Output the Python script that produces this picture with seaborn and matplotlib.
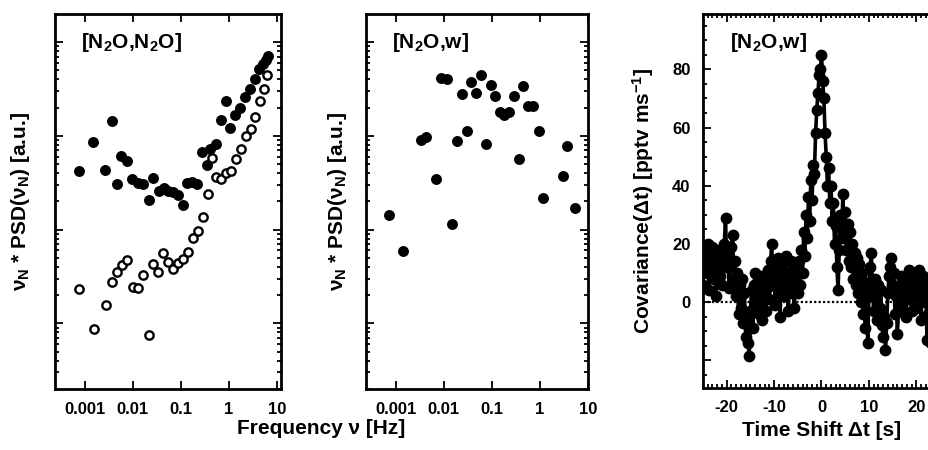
import matplotlib
matplotlib.use('Agg')
import matplotlib.pyplot as plt
import numpy as np
import seaborn as sns
from matplotlib.ticker import LogLocator, NullFormatter, MultipleLocator

# [N2O,N2O] spectrum, filled symbols
freq_nn_filled = [7.7e-4, 1.51e-3, 2.64e-3, 3.69e-3, 4.62e-3, 5.6e-3, 7.7e-3, 9.8e-3,
                  1.26e-2, 1.66e-2, 2.11e-2, 2.68e-2, 3.41e-2, 4.34e-2, 5.33e-2, 6.78e-2,
                  8.48e-2, 0.110, 0.133, 0.169, 0.214, 0.273, 0.347, 0.407, 0.542, 0.689,
                  0.876, 1.06, 1.35, 1.71, 2.18, 2.68, 3.41, 4.27, 5.08, 5.97, 6.47]
psd_nn_filled = [42.3, 86, 43, 144, 30.5, 60.6, 53.6, 35.1, 31.5, 30.3, 20.6, 35.9, 25.7,
                 27.9, 25.7, 25.3, 23.3, 18.2, 31.5, 32.3, 31.0, 67.3, 48.6, 73.1, 81.3,
                 149, 235, 122, 165, 200, 257, 318, 406, 519, 586, 652, 708]

# [N2O,N2O] spectrum, open symbols
freq_nn_open = [7.7e-4, 1.58e-3, 2.77e-3, 3.75e-3, 4.62e-3, 5.87e-3, 7.7e-3, 9.96e-3,
                1.26e-2, 1.61e-2, 2.11e-2, 2.68e-2, 3.30e-2, 4.20e-2, 5.25e-2, 6.67e-2,
                8.48e-2, 0.110, 0.137, 0.174, 0.221, 0.281, 0.358, 0.441, 0.542, 0.689,
                0.876, 1.10, 1.42, 1.77, 2.25, 2.86, 3.52, 4.34, 5.42, 6.16]
psd_nn_open = [2.31, 0.868, 1.56, 2.77, 3.50, 4.20, 4.70, 2.45, 2.37, 3.26, 0.755, 4.30,
               3.53, 5.58, 4.55, 3.77, 4.37, 4.86, 5.82, 8.06, 9.73, 13.7, 23.9, 58.2,
               36.5, 35.1, 40.3, 42.6, 57.2, 71.9, 99.7, 119, 159, 233, 313, 448]

# [N2O,w] cospectrum
freq_nw = [7.35e-4, 1.39e-3, 3.36e-3, 4.27e-3, 6.89e-3, 8.62e-3, 1.15e-2, 1.51e-2,
           1.89e-2, 2.36e-2, 3.0e-2, 3.69e-2, 4.69e-2, 5.87e-2, 7.46e-2, 9.49e-2,
           0.117, 0.148, 0.183, 0.229, 0.286, 0.369, 0.455, 0.578, 0.723, 0.949,
           1.17, 3.0, 3.64, 5.42]
psd_nw = [14.3, 5.96, 89.7, 97.3, 34.5, 416, 403, 11.5, 88.2, 277, 113, 374, 288, 441,
          82.6, 350, 266, 179, 167, 179, 266, 57.2, 342, 206, 207, 112, 22.0, 37.4,
          78.7, 17.1]

freq_ticks = [0.001, 0.01, 0.1, 1, 10]
freq_labels = ['0.001', '0.01', '0.1', '1', '10']

# [N2O,w] covariance vs time shift (0.25 s steps from -25 s to 25 s)
lag = np.linspace(-25, 25, 201)
cov = [6, 14, 18, 10, 20, 4, 16, 12, 19, 8, 15, 2, 13, 18, 9, 17, 6, 14, 20, 29,
       12, 16, 5, 13, 19, 23, 8, 14, 2, 10, -4, 6, -2, 8, -7, 3, -12, -5, -14, -18.5,
       -3, 4, -9, 6, 10, -2, 7, -4, 3, 9, -6, 2, 8, -3, 5, 11, 1, 14, 20, 6,
       12, -1, 9, 15, 4, -5, 7, 13, 2, 10, 16, 5, -3, 8, 14, 3, 11, -2, 6, 12,
       3, 14, 6, 18, 10, 24, 16, 30, 22, 36, 28, 42, 35, 47, 44, 58, 66, 72, 78, 80,
       85, 76, 70, 58, 50, 40, 46, 34, 40, 28, 34, 20, 26, 12, 4, 18, 30, 22, 37, 24,
       31, 18, 27, 14, 24, 12, 20, 8, 17, 6, 15, 3, 13, 0, 10, -4, 7, -9, 4, -14,
       2, 12, 17, 5, -3, 8, 1, -6, 6, -2, 4, -8, -12, -5, -16.5, -7, 3, 9, 12, 15,
       6, 10, -4, 2, -11, -3, 5, 9, -1, 7, 3, -5, 8, 1, 11, 4, -3, 9, 2, 10,
       -2, 6, 11, 3, -6, 5, 9, 0, 7, -13, -4, 4, -14, 2, 8, 10, -2, 5, 9, -1,
       4]

sns.set_style('ticks')
plt.rc('font', family=['Liberation Sans', 'DejaVu Sans'], weight='bold', size=12)
plt.rc('axes', labelweight='bold', linewidth=2, edgecolor='black', labelcolor='black',
       unicode_minus=False)
plt.rc('xtick', color='black')
plt.rc('ytick', color='black')
plt.rc('text', color='black')
plt.rc('mathtext', default='regular')

fig = plt.figure(figsize=(9.29, 4.5), dpi=100)
W, H = 929, 450
ax1 = fig.add_axes([55 / W, 61 / H, 226 / W, 375 / H])
ax2 = fig.add_axes([366 / W, 61 / H, 222 / W, 375 / H])
ax3 = fig.add_axes([703 / W, 62 / H, 237 / W, 374 / H])

sns.scatterplot(x=freq_nn_filled, y=psd_nn_filled, color='black', edgecolor='black',
                linewidth=0, s=62, ax=ax1, zorder=3)
sns.scatterplot(x=freq_nn_open, y=psd_nn_open, color='white', edgecolor='black',
                linewidth=1.7, s=36, ax=ax1, zorder=3)
sns.scatterplot(x=freq_nw, y=psd_nw, color='black', edgecolor='black',
                linewidth=0, s=62, ax=ax2, zorder=3)

for ax, xmax, label in [(ax1, 12.0, '[N$_2$O,N$_2$O]'), (ax2, 10.1, '[N$_2$O,w]')]:
    ax.set(xscale='log', yscale='log')
    ax.set_xlim(2.4e-4, xmax)
    ax.set_ylim(10 ** -0.7, 10 ** 3.3)
    ax.set_xticks(freq_ticks, labels=freq_labels)
    ax.xaxis.set_minor_locator(LogLocator(subs=np.arange(2, 10)))
    ax.xaxis.set_minor_formatter(NullFormatter())
    ax.yaxis.set_major_locator(LogLocator(numticks=10))
    ax.yaxis.set_minor_locator(LogLocator(subs=np.arange(2, 10), numticks=10))
    ax.yaxis.set_major_formatter(NullFormatter())
    ax.yaxis.set_minor_formatter(NullFormatter())
    ax.set_ylabel('ν$_N$ * PSD(ν$_N$) [a.u.]', fontsize=15)
    ax.text(0.115, 0.955, label, transform=ax.transAxes, fontsize=15, va='top', ha='left')

ax1.yaxis.set_label_coords(-0.1, 0.5)
ax2.yaxis.set_label_coords(-0.075, 0.5)

ax3.axhline(0, color='black', lw=1.6, ls=(0, (1, 1)), zorder=1)
sns.lineplot(x=lag, y=cov, color='black', lw=2.6, marker='o', markersize=8.5,
             markeredgewidth=0, ax=ax3, zorder=3)
ax3.set_xlim(-25, 25)
ax3.set_ylim(-29.5, 99)
ax3.set_xticks([-20, -10, 0, 10, 20])
ax3.xaxis.set_minor_locator(MultipleLocator(1))
ax3.set_yticks([-20, 0, 20, 40, 60, 80], labels=['', '0', '20', '40', '60', '80'])
ax3.yaxis.set_minor_locator(MultipleLocator(5))
ax3.set_ylabel('Covariance(Δt) [pptv ms$^{-1}$]', fontsize=15)
ax3.yaxis.set_label_coords(-0.2, 0.5)
ax3.set_xlabel('Time Shift Δt [s]', fontsize=15, labelpad=4)
ax3.text(0.114, 0.955, '[N$_2$O,w]', transform=ax3.transAxes, fontsize=15, va='top', ha='left')

for ax in (ax1, ax2, ax3):
    ax.tick_params(which='both', direction='in', top=True, right=True, width=1.3)
    ax.tick_params(which='major', length=6, pad=9)
    ax.tick_params(which='minor', length=3)
    for sp in ax.spines.values():
        sp.set_linewidth(2)

fig.text(321 / W, 22 / H, 'Frequency ν [Hz]', ha='center', va='center', fontsize=15,
         fontweight='bold')

fig.savefig('out.png', dpi=100)
